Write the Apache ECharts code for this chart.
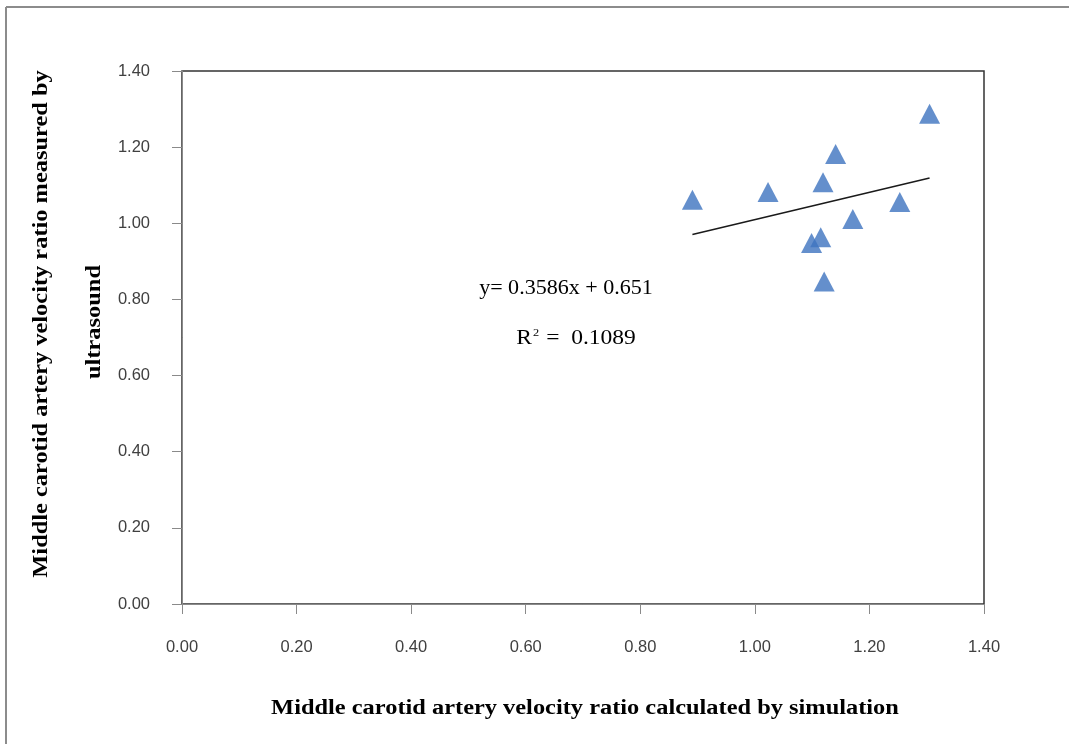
<!DOCTYPE html>
<html>
<head>
<meta charset="utf-8">
<script src="https://cdn.jsdelivr.net/npm/echarts@6/dist/echarts.min.js"></script>
<style>
  html, body { margin: 0; padding: 0; background: #fff; }
  #chart { width: 1069px; height: 744px; }
</style>
</head>
<body>
<div id="chart"></div>
<script>
// Simulated vs. ultrasound-measured velocity ratios (middle carotid artery)
const simulatedRatio = [0.891, 1.023, 1.119, 1.141, 1.305, 1.253, 1.171, 1.099, 1.115, 1.121];
const measuredRatio  = [1.062, 1.082, 1.108, 1.182, 1.288, 1.056, 1.011, 0.948, 0.963, 0.847];

// Linear fit reported on the chart
const fitSlope = 0.3586;
const fitIntercept = 0.651;
const fitR2 = '0.1089';

const tickLabels = ['0.00', '0.20', '0.40', '0.60', '0.80', '1.00', '1.20', '1.40'];

const xTitle = 'Middle carotid artery velocity ratio calculated by simulation';
const yTitleLines = ['Middle carotid artery velocity ratio measured by', 'ultrasound'];

const points = simulatedRatio.map((x, i) => [x, measuredRatio[i]]);
const xMin = Math.min(...simulatedRatio);
const xMax = Math.max(...simulatedRatio);
const fitLine = [xMin, xMax].map(x => [x, fitSlope * x + fitIntercept]);

const chart = echarts.init(document.getElementById('chart'), null, { renderer: 'canvas' });

const tickFmt = v => tickLabels[Math.round(v / 0.2)] ?? v.toFixed(2);

const axisCommon = {
  type: 'value',
  min: 0,
  max: 1.4,
  interval: 0.2,
  axisLine: { show: true, lineStyle: { color: '#8a8a8a', width: 1 } },
  axisTick: { show: true, inside: false, length: 10, lineStyle: { color: '#8a8a8a' } },
  splitLine: { show: false },
  axisLabel: {
    formatter: tickFmt,
    color: '#404040',
    fontFamily: 'Liberation Sans',
    fontSize: 16.5
  }
};

const titleFont = 'bold 20px "Liberation Serif"';

chart.setOption({
  animation: false,
  backgroundColor: '#fff',
  grid: {
    left: 182, top: 71, right: 85, bottom: 140,
    show: true, borderColor: '#333', borderWidth: 1.5, backgroundColor: 'transparent'
  },
  xAxis: Object.assign({}, axisCommon, {
    axisLabel: Object.assign({}, axisCommon.axisLabel, { margin: 35 })
  }),
  yAxis: Object.assign({}, axisCommon, {
    axisLabel: Object.assign({}, axisCommon.axisLabel, { margin: 32 })
  }),
  graphic: [
    // outer frame (left and top edges)
    { type: 'line', shape: { x1: 6, y1: 7, x2: 6, y2: 744 }, style: { stroke: '#8c8c8c', lineWidth: 2 } },
    { type: 'line', shape: { x1: 6, y1: 7, x2: 1069, y2: 7 }, style: { stroke: '#8c8c8c', lineWidth: 2 } },
    // axis titles
    {
      type: 'text', x: 585, y: 709, scaleX: 1.22,
      style: { text: xTitle, fill: '#000', align: 'center', verticalAlign: 'middle', font: titleFont }
    },
    {
      type: 'text', x: 42, y: 324, rotation: Math.PI / 2, scaleX: 1.22,
      style: { text: yTitleLines[0], fill: '#000', align: 'center', verticalAlign: 'middle', font: titleFont }
    },
    {
      type: 'text', x: 95, y: 322, rotation: Math.PI / 2, scaleX: 1.22,
      style: { text: yTitleLines[1], fill: '#000', align: 'center', verticalAlign: 'middle', font: titleFont }
    },
    // fit equation and R²
    {
      type: 'text', x: 566, y: 288, scaleX: 1.05,
      style: {
        text: 'y= ' + fitSlope + 'x + ' + fitIntercept, fill: '#000',
        align: 'center', verticalAlign: 'middle', font: '21px "Liberation Serif"'
      }
    },
    {
      type: 'text', x: 576, y: 338, scaleX: 1.12,
      style: {
        text: '{b|R}{s|2}{b| =  ' + fitR2 + '}', align: 'center', verticalAlign: 'middle',
        rich: {
          b: { fontFamily: 'Liberation Serif', fontSize: 21, fill: '#000' },
          s: { fontFamily: 'Liberation Serif', fontSize: 11, fill: '#000', verticalAlign: 'top', padding: [0, 1, 8, 1] }
        }
      }
    }
  ],
  series: [
    {
      type: 'line',
      data: fitLine,
      symbol: 'none',
      lineStyle: { color: '#1a1a1a', width: 1.5 },
      z: 2
    },
    {
      type: 'scatter',
      data: points,
      symbol: 'triangle',
      symbolSize: [21, 20],
      itemStyle: { color: '#3d73bf' },
      z: 3
    }
  ]
});
</script>
</body>
</html>
